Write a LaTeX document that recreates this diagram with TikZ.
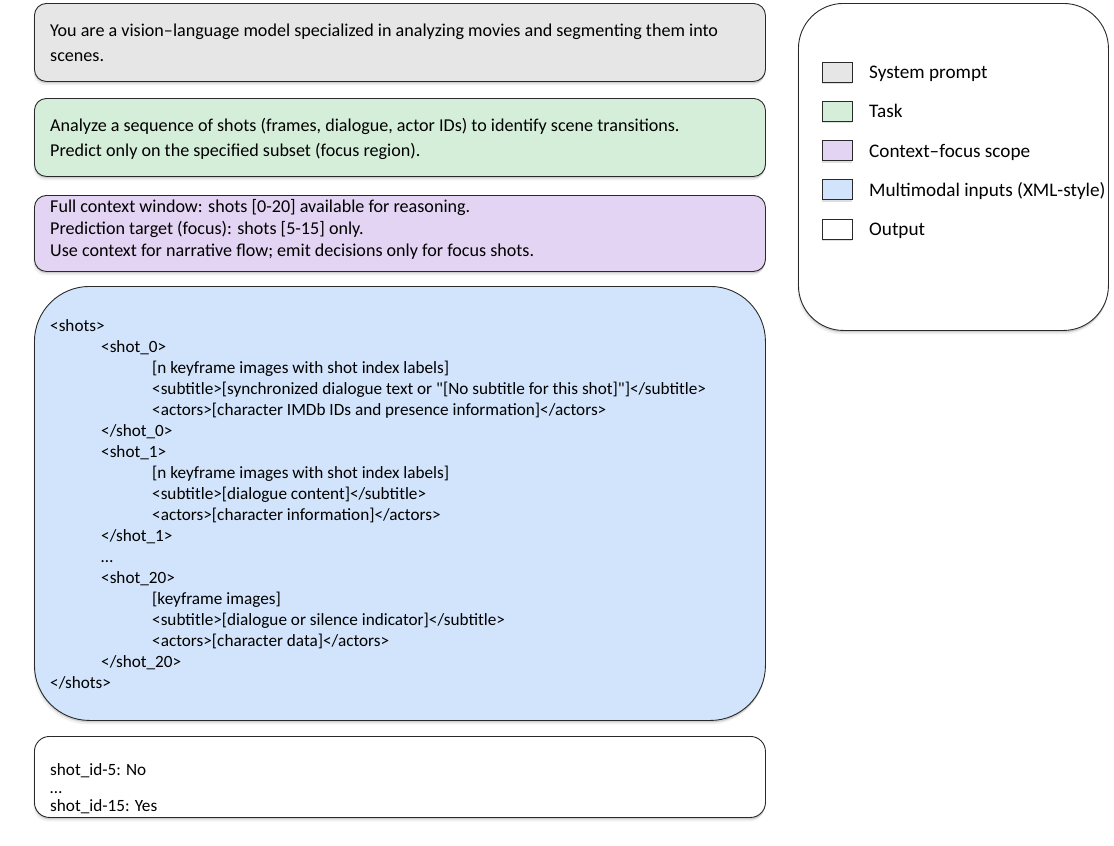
\documentclass[tikz,border=0pt]{standalone}
\usepackage{fontspec}
\setmainfont{Carlito}
\usetikzlibrary{shadows}
\definecolor{graybg}{HTML}{E6E6E6}
\definecolor{greenbg}{HTML}{D5EEDA}
\definecolor{purplebg}{HTML}{E3D4F3}
\definecolor{bluebg}{HTML}{D2E4FB}
\definecolor{edge}{HTML}{2A2A2A}
\tikzset{
  panel/.style={draw=edge, line width=0.9pt, anchor=north west, inner sep=0pt,
    drop shadow={shadow xshift=0pt, shadow yshift=-2pt, opacity=0.30},
    drop shadow={shadow xshift=-1pt, shadow yshift=-4pt, opacity=0.12}},
  swatch/.style={draw=edge, line width=0.9pt, minimum width=30pt, minimum height=20pt, inner sep=0pt,
    drop shadow={shadow xshift=0pt, shadow yshift=-2pt, opacity=0.25}},
  bigtxt/.style={anchor=base west, inner sep=0pt, font=\fontsize{18.1}{22}\selectfont},
  legtxt/.style={anchor=base west, inner sep=0pt, font=\fontsize{19.2}{22}\selectfont},
  smalltxt/.style={anchor=base west, inner sep=0pt, font=\fontsize{17.2}{20}\selectfont},
}
\begin{document}
\begin{tikzpicture}[x=1pt,y=-1pt]
\useasboundingbox (0,0) rectangle (1114,846);
% panels
\node[panel, fill=graybg, rounded corners=12pt, minimum width=731pt, minimum height=78pt] (sys) at (34,3) {};
\node[panel, fill=greenbg, rounded corners=12pt, minimum width=731pt, minimum height=78pt] (task) at (34,98) {};
\node[panel, fill=purplebg, rounded corners=12pt, minimum width=731pt, minimum height=76pt] (scope) at (34,195) {};
\node[panel, fill=bluebg, rounded corners=55pt, minimum width=731pt, minimum height=434pt] (xml) at (34,286) {};
\node[panel, fill=white, rounded corners=15pt, minimum width=731pt, minimum height=81pt] (out) at (34,736) {};
\node[panel, fill=white, rounded corners=45pt, minimum width=310pt, minimum height=327pt] (legend) at (798,3) {};
% system prompt
\node[bigtxt] (s1) at (50,36) {You are a vision--language model specialized in analyzing movies and segmenting them into};
\node[bigtxt] (s2) at (50,61.5) {scenes.};
% task
\node[bigtxt] (t1) at (50,131.5) {Analyze a sequence of shots (frames, dialogue, actor IDs) to identify scene transitions.};
\node[bigtxt] (t2) at (50,156.5) {Predict only on the specified subset (focus region).};
% scope
\node[bigtxt] (c1) at (50,212.5) {Full context window: shots [0-20] available for reasoning.};
\node[bigtxt] (c2) at (50,234.5) {Prediction target (focus): shots [5-15] only.};
\node[bigtxt] (c3) at (50,256.5) {Use context for narrative flow; emit decisions only for focus shots.};
% xml
\foreach \ind/\txt [count=\i from 0] in {
  50/{<shots>},
  101/{<shot\_0>},
  152/{[n keyframe images with shot index labels]},
  152/{<subtitle>[synchronized dialogue text or \textquotedbl[No subtitle for this shot]\textquotedbl]</subtitle>},
  152/{<actors>[character IMDb IDs and presence information]</actors>},
  101/{</shot\_0>},
  101/{<shot\_1>},
  152/{[n keyframe images with shot index labels]},
  152/{<subtitle>[dialogue content]</subtitle>},
  152/{<actors>[character information]</actors>},
  101/{</shot\_1>},
  101/{…},
  101/{<shot\_20>},
  152/{[keyframe images]},
  152/{<subtitle>[dialogue or silence indicator]</subtitle>},
  152/{<actors>[character data]</actors>},
  101/{</shot\_20>},
  50/{</shots>}}
  \node[smalltxt] (x\i) at (\ind,331+21*\i) {\txt};
% output
\node[smalltxt] (o1) at (50,775) {shot\_id-5: No};
\node[smalltxt] (o2) at (50,793) {…};
\node[smalltxt] (o3) at (50,811) {shot\_id-15: Yes};
% legend
\foreach \col/\lab [count=\i from 0] in {graybg/System prompt, greenbg/Task, purplebg/Context--focus scope, bluebg/Multimodal inputs (XML-style), white/Output} {
  \node[swatch, fill=\col] (sw\i) at (837,72+39.3*\i) {};
  \node[legtxt] (lg\i) at (869,78.5+39.3*\i) {\lab};
}
\end{tikzpicture}
\end{document}
